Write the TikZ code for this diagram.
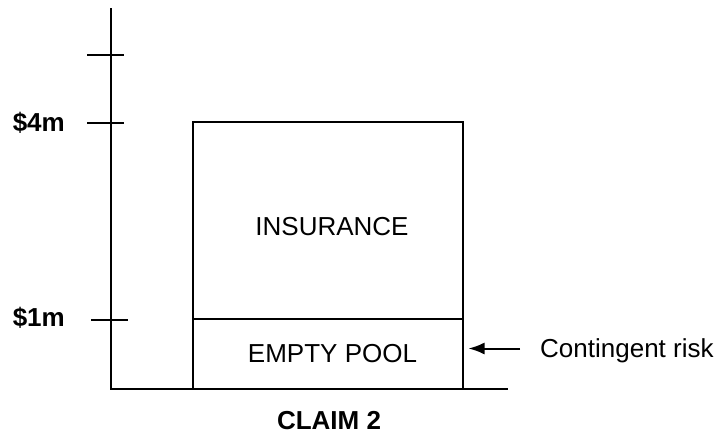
\documentclass[tikz,border=0pt]{standalone}
\usepackage{fontspec}
\setmainfont{Liberation Sans}
\usetikzlibrary{arrows.meta}

\tikzset{
  axisline/.style={line width=2pt},
  boxline/.style={line width=2pt},
  lbl/.style={inner sep=0pt, font=\fontsize{26}{30}\selectfont},
  boldlbl/.style={lbl, font=\fontsize{26}{30}\selectfont\bfseries}
}

\begin{document}
\begin{tikzpicture}[x=1pt,y=-1pt]
            \useasboundingbox (0,0) rectangle (721,434);

            % Define the y-axis and the x-axis
            \coordinate (top) at (110.5,8);
            \coordinate (origin) at (110.5,389);
            \coordinate (right) at (508,389);
            \draw[axisline] (top) -- (origin) -- (right);

            % Ticks on the y-axis
            \draw[axisline] (87,55) -- (124,55);
            \draw[axisline] (87,123) -- (124,123);
            \draw[axisline] (91,319.5) -- (128,319.5);
            \node[boldlbl, anchor=east] (four) at (65,123) {\$4m};
            \node[boldlbl, anchor=east] (one) at (65,318) {\$1m};

            % The insurance layer
            \draw[boxline] (192.5,389) -- (192.5,122) -- (462.5,122) -- (462.5,389);
            \node[lbl] (insurance) at (332,227) {INSURANCE};

            % The empty pool layer
            \node[boxline, draw, minimum width=270pt, minimum height=70pt, inner sep=0pt]
                (pool) at (327.5,354) {};
            \node[lbl] (pooltext) at (332.5,354) {EMPTY POOL};

            % Contingent risk arrow
            \node[lbl, anchor=base west] (risk) at (540,357) {Contingent risk};
            \coordinate (riskstart) at (520,348.5);
            \draw[line width=2pt, shorten >=5pt, -{Latex[length=16pt,width=12pt]}]
                (riskstart) -- (pool.east |- riskstart);

            % Label under the boxes
            \node[boldlbl] (claim) at (329,421) {CLAIM 2};

        \end{tikzpicture}
\end{document}
